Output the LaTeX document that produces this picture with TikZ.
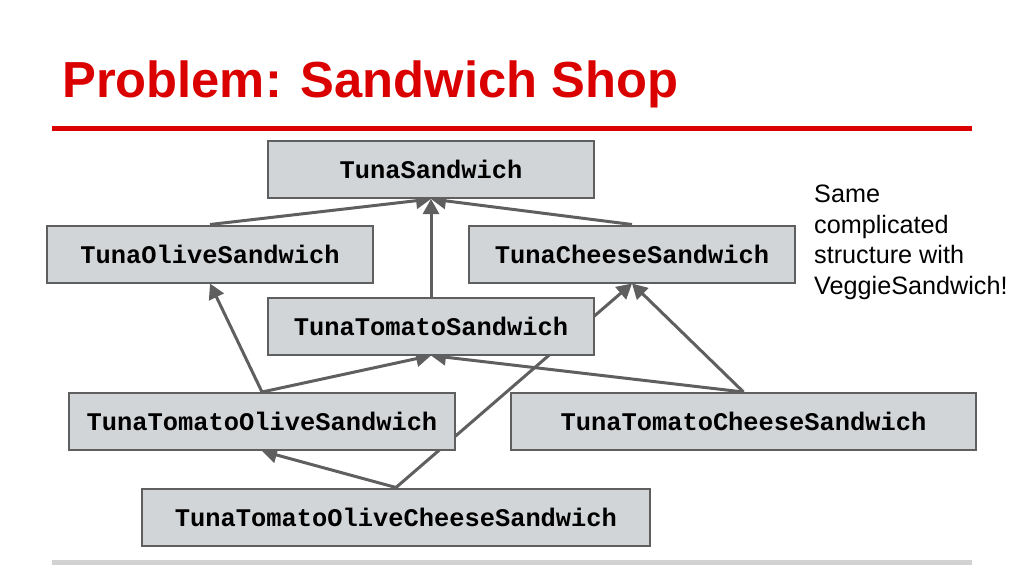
\documentclass[tikz,border=0pt]{standalone}
\usepackage{fontspec}
\setmainfont{Liberation Sans}
\newfontfamily\boxfont{Liberation Mono}
\usetikzlibrary{arrows.meta,backgrounds}
\definecolor{titlered}{RGB}{218,0,0}
\definecolor{boxfill}{RGB}{210,213,215}
\definecolor{boxdraw}{RGB}{95,95,95}
\definecolor{linegray}{RGB}{210,210,210}
\tikzset{
  cls/.style={draw=boxdraw,line width=2pt,fill=boxfill,minimum height=57pt,inner sep=0pt,
    font=\boxfont\bfseries\fontsize{25.4}{30}\selectfont},
  inh/.style={draw=boxdraw,line width=3pt,-{Triangle[length=15pt,width=16pt]}},
}
\begin{document}
\begin{tikzpicture}[x=1pt,y=-1pt]
\useasboundingbox (0,0) rectangle (1024,576);
\node[anchor=base west,text=titlered,font=\bfseries\fontsize{50.7}{60}\selectfont,inner sep=0pt] (title) at (62,97) {Problem: Sandwich Shop};
\fill[titlered] (52,125.5) rectangle (972,130.5);
\fill[linegray] (52,559.5) rectangle (972,564.5);
\node[cls,minimum width=326pt] (ts) at (431,169.5) {TunaSandwich};
\node[cls,minimum width=326pt] (tos) at (210,254) {TunaOliveSandwich};
\node[cls,minimum width=326pt] (tcs) at (632,254) {TunaCheeseSandwich};
\node[cls,minimum width=326pt] (tts) at (431,326) {TunaTomatoSandwich};
\node[cls,minimum width=386pt] (ttos) at (262,421.5) {TunaTomatoOliveSandwich};
\node[cls,minimum width=465pt] (ttcs) at (743.5,421.5) {TunaTomatoCheeseSandwich};
\node[cls,minimum width=508pt] (ttocs) at (396,517) {TunaTomatoOliveCheeseSandwich};
\node[anchor=north west,align=left,inner sep=0pt,font=\fontsize{25.2}{30.5}\selectfont] (note) at (814,185) {Same\\complicated\\structure with\\VeggieSandwich!};
\begin{scope}[on background layer]
\draw[inh] (tos.north) -- (ts.south);
\draw[inh] (tts.north) -- (ts.south);
\draw[inh] (tcs.north) -- (ts.south);
\draw[inh] (ttos.north) -- (tos.south);
\draw[inh] (ttos.north) -- (tts.south);
\draw[inh] (ttcs.north) -- (tts.south);
\draw[inh] (ttcs.north) -- (tcs.south);
\draw[inh] (ttocs.north) -- (ttos.south);
\draw[inh] (ttocs.north) -- (tcs.south);
\end{scope}
\end{tikzpicture}
\end{document}
